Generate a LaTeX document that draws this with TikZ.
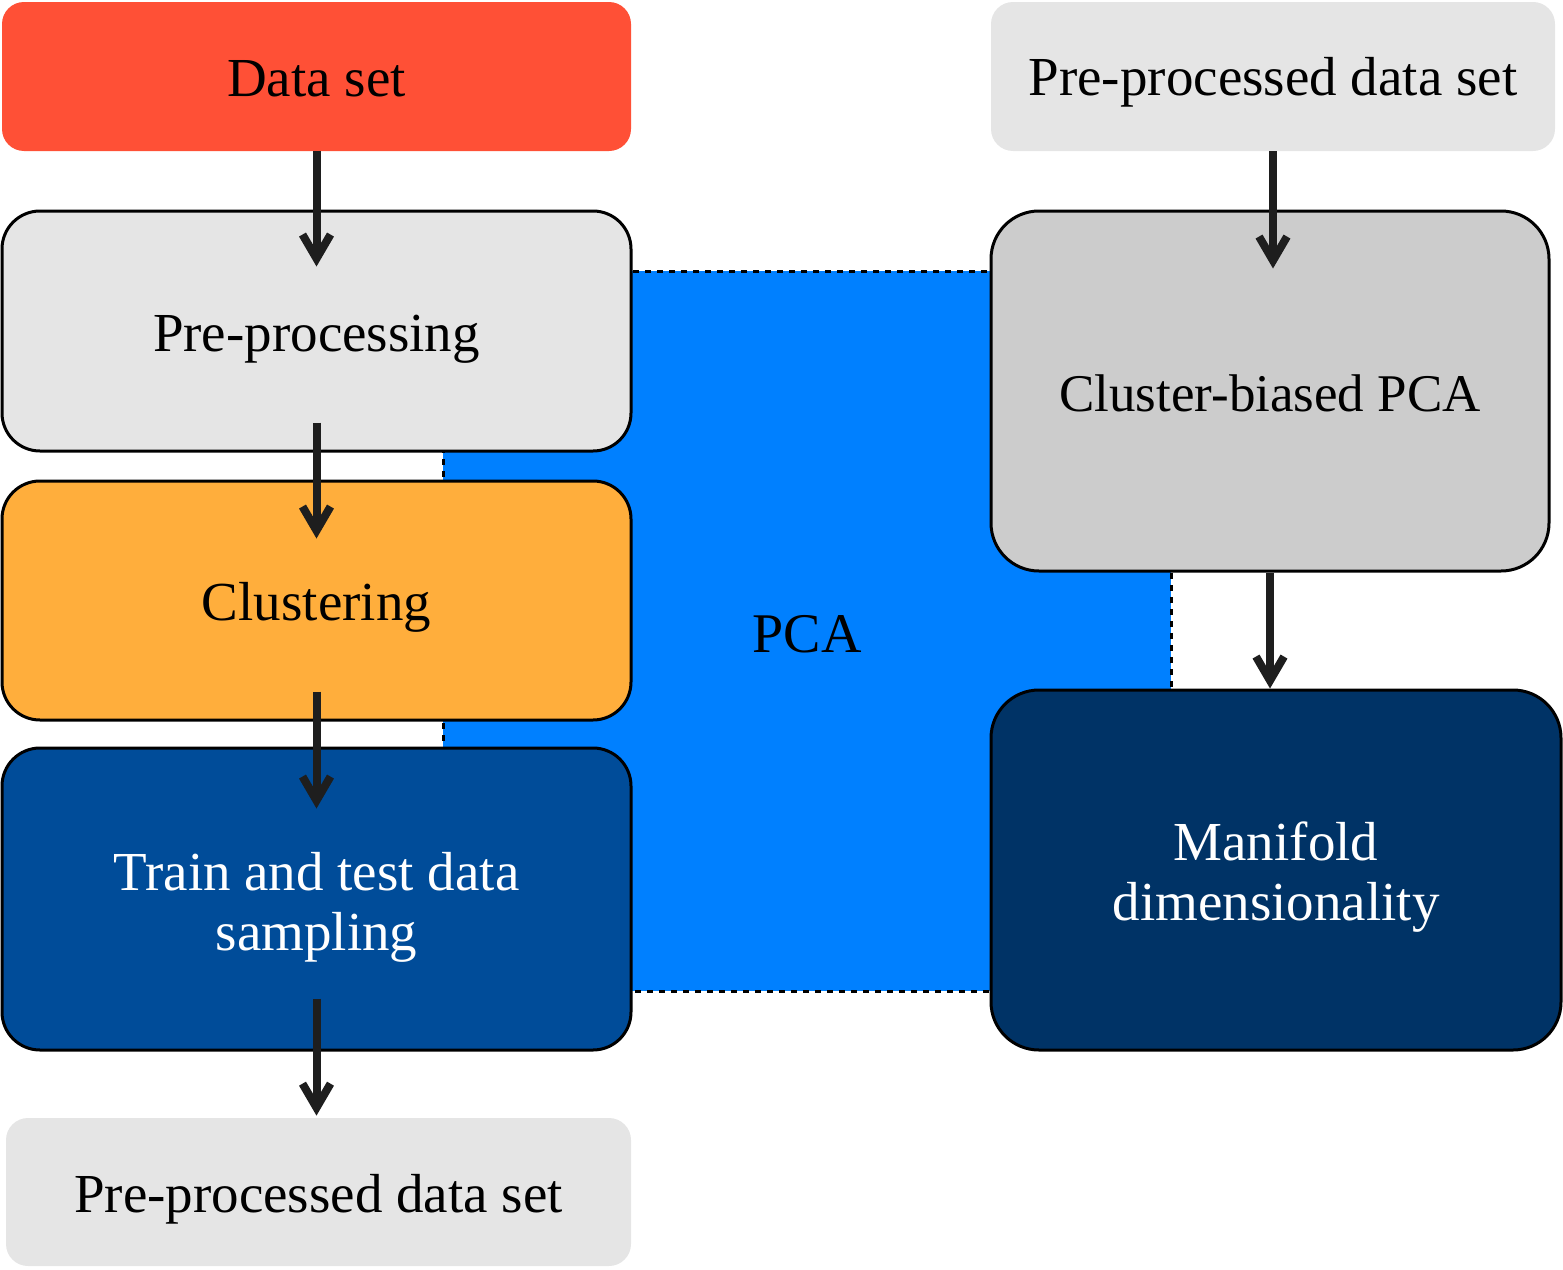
\documentclass[tikz,border=0pt]{standalone}
\usepackage{fontspec}
\setmainfont{Liberation Serif}
\usetikzlibrary{arrows.meta}
\definecolor{dsred}{RGB}{255,80,54}
\definecolor{lgray}{RGB}{229,229,229}
\definecolor{mgray}{RGB}{204,204,204}
\definecolor{clorange}{RGB}{255,174,60}
\definecolor{tsblue}{RGB}{0,76,153}
\definecolor{mfblue}{RGB}{0,51,102}
\definecolor{pcablue}{RGB}{0,128,255}
\definecolor{arrgray}{RGB}{30,30,30}
\newcommand{\flow}[4]{\draw[flow,shorten <=#2,shorten >=#4] (#1.south) -- (#1.south |- #3.north);}

\begin{document}
\begin{tikzpicture}[x=0.5pt,y=-0.5pt,
  every node/.style={font=\fontsize{27.5}{30}\selectfont,align=center,inner sep=0pt,
    text height=20pt,text depth=0pt},
  plain/.style={rounded corners=11pt,fill=lgray},
  box/.style={rounded corners=19pt,draw=black,line width=1.5pt},
  pcabox/.style={fill=pcablue,draw=black,line width=1.5pt,dash pattern=on 3pt off 3pt,
    minimum width=364pt,minimum height=360pt,font=\fontsize{28}{30}\selectfont},
  flow/.style={draw=arrgray,line width=4pt,-{Straight Barb[length=12pt,width=14pt]}}]
  \useasboundingbox (0,0) rectangle (1563,1269);
  \node[pcabox,text height=21pt] (pca) at (807,631) {PCA};
  % left column
  \node[plain,fill=dsred,minimum width=314.5pt,minimum height=74.5pt] (data) at (316.5,76.5) {Data set};
  \node[box,fill=lgray,minimum width=314.5pt,minimum height=120pt] (prep) at (316.5,331) {Pre-processing};
  \node[box,fill=clorange,minimum width=314.5pt,minimum height=119.5pt] (clust) at (316.5,600.5) {Clustering};
  \node[box,fill=tsblue,text=white,minimum width=314.5pt,minimum height=151pt,text height=51pt] (train) at (316.5,899) {Train and test data\\sampling};
  \node[plain,minimum width=312.5pt,minimum height=74pt] (outl) at (318.5,1192) {Pre-processed data set};
  % right column
  \node[plain,minimum width=282pt,minimum height=74.5pt,text height=18.5pt] (outr) at (1273,76.5) {Pre-processed data set};
  \node[box,rounded corners=24pt,fill=mgray,minimum width=279pt,minimum height=180pt,
    font=\fontsize{26.5}{30}\selectfont,text height=20pt] (cbpca) at (1270,391) {Cluster-biased PCA};
  \node[box,rounded corners=24pt,fill=mfblue,text=white,minimum width=285pt,minimum height=180pt,
    text height=50pt] (manif) at (1276,870) {Manifold\\dimensionality};
  % arrows
  \flow{data}{0pt}{prep}{-28.5pt}
  \flow{prep}{-15pt}{clust}{-29.5pt}
  \flow{clust}{-15pt}{train}{-31pt}
  \flow{train}{-26.5pt}{outl}{1pt}
  \flow{outr}{0pt}{cbpca}{-29.5pt}
  \flow{cbpca}{0pt}{manif}{0pt}
\end{tikzpicture}
\end{document}
